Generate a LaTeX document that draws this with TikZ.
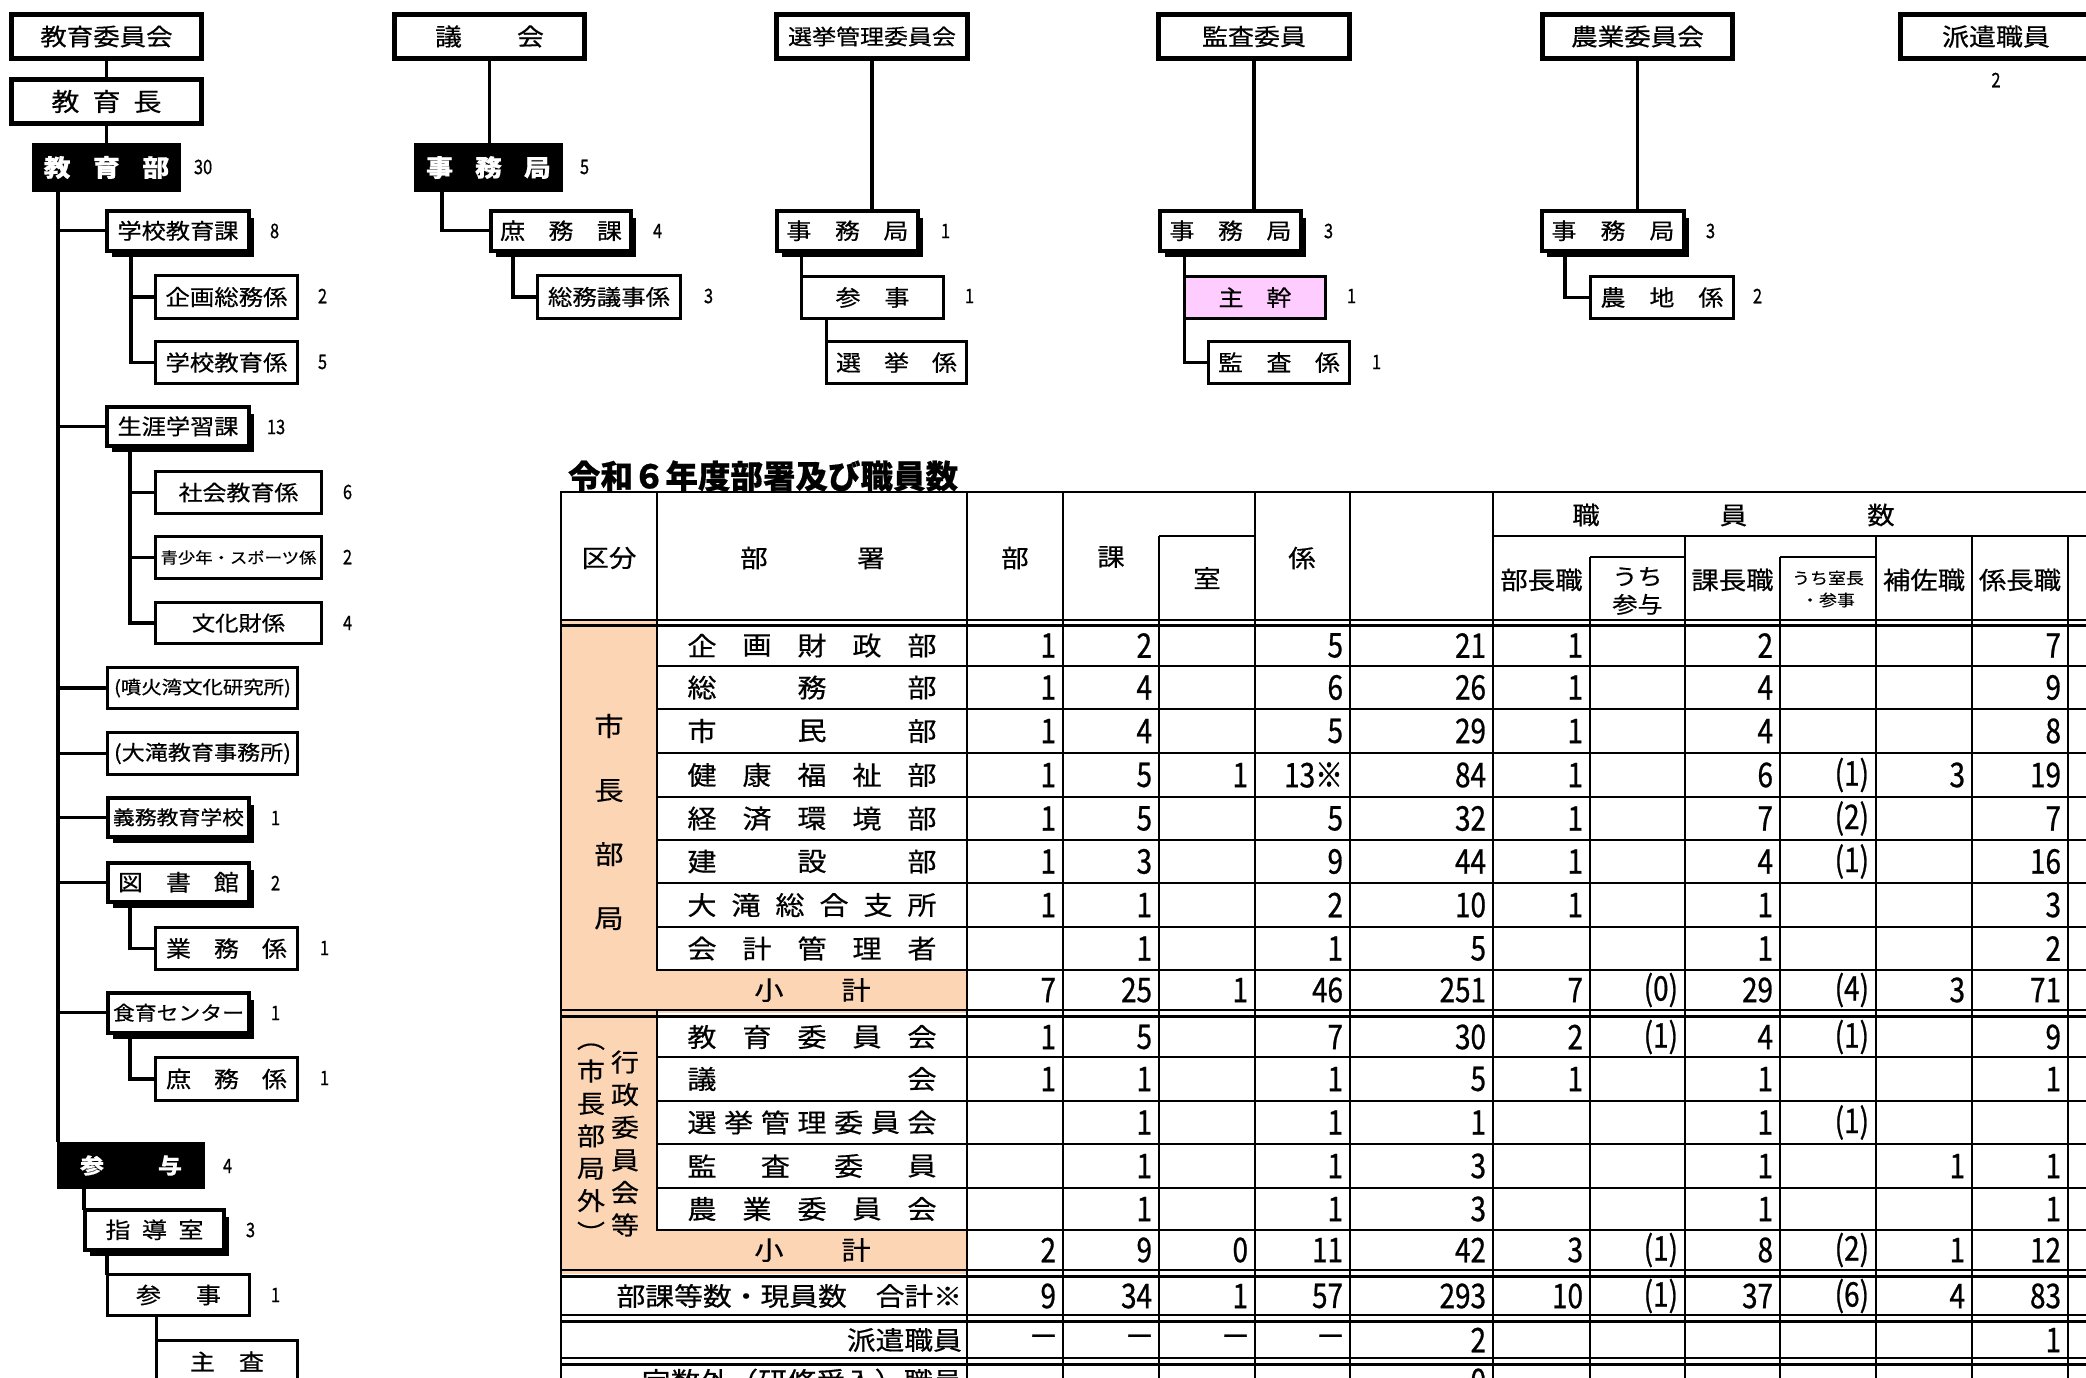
\documentclass[tikz,border=0pt]{standalone}
\usepackage{fontspec}
\setmainfont{Noto Sans CJK JP}[FakeStretch=1.12,FakeBold=0.5]
\newfontfamily\numf{Noto Sans CJK JP}[FakeStretch=0.82,FakeBold=0.7]
\newfontfamily\titlef{Noto Sans CJK JP}[FakeBold=0.6]
\usetikzlibrary{shadows}
\pgfdeclarelayer{back}
\pgfdeclarelayer{bg}
\pgfsetlayers{back,bg,main}
\definecolor{peach}{RGB}{252,213,180}
\definecolor{pinkfill}{RGB}{255,204,255}
\newcommand\fs[1]{\fontsize{#1}{#1}\selectfont}
\newcommand\gap[1]{\hspace*{#1pt}}
\tikzset{
  every node/.style={inner sep=0pt, outer sep=0pt},
  thickbox/.style={draw, line width=5pt, fill=white},
  thinbox/.style={draw, line width=3.3pt, fill=white},
  shbox/.style={draw, line width=4pt, fill=white, drop shadow={shadow xshift=5pt, shadow yshift=-6.5pt, opacity=1, fill=black}},
  blackbox/.style={fill=black, text=white},
  conn/.style={line width=3.3pt},
  lbl/.style={anchor=west, font=\numf\fs{20}},
  tnum/.style={anchor=east, font=\numf\fs{34}},
  hd/.style={font=\fs{24.5}},
  thk/.style={line width=2.8pt, line cap=rect},
  dbl/.style={line width=2.4pt},
  thn/.style={line width=1.1pt},
}
\newcommand\tkbox[6]{\node[thickbox, minimum width={#4-#2-5}, minimum height={#5-#3-5}] (#1) at ({(#2+#4)/2},{(#3+#5)/2}) {#6};}
\newcommand\tnbox[7][]{\node[thinbox,#1, minimum width={#5-#3-3.3}, minimum height={#6-#4-3.3}] (#2) at ({(#3+#5)/2},{(#4+#6)/2}) {#7};}
\newcommand\shbx[6]{\node[shbox, minimum width={#4-#2-7}, minimum height={#5-#3-8.5}] (#1) at ({(#2+#4)/2-1.5},{(#3+#5)/2-2.25}) {#6};}
\newcommand\bkbox[6]{\node[blackbox, minimum width={#4-#2}, minimum height={#5-#3}] (#1) at ({(#2+#4)/2},{(#3+#5)/2}) {#6};}
\def\colsR{{1063,1159,1255,1350,1493,1590,1685,1780,1876,1972,2068}}
\newcommand\trow[3]{\foreach \v [count=\i] in {#3} {\pgfmathsetmacro\xr{\colsR[\i-1]-7}\node[tnum] (#1-\i) at (\xr,#2) {\v};}}
\newcommand\jst[4]{\foreach \ch [count=\i] in {#4} {\node[font=\fs{26}] (#1-j\i) at ({702+(\i-1)*220/(#3-1)},#2) {\ch};}}
\begin{document}
\begin{tikzpicture}[x=1pt,y=-1pt]
\useasboundingbox (0,0) rectangle (2086,1377);
\begin{pgfonlayer}{back}
\fill[white] (0,0) rectangle (2086,1377);
\end{pgfonlayer}
\clip (0,0) rectangle (2086,1377);

% ---------- org chart: top boxes ----------
\tkbox{kyoi}{9}{12}{204}{61}{\fs{23.6}教育委員会}
\tkbox{kcho}{9}{77}{204}{126}{\fs{25}教\gap{13}育\gap{13}長}
\tkbox{gikai}{392}{12}{587}{61}{\fs{24}議\gap{55}会}
\tkbox{senkan}{774}{12}{970}{61}{\fs{21.4}選挙管理委員会}
\tkbox{kansa}{1156}{12}{1352}{61}{\fs{23.2}監査委員}
\tkbox{nogyo}{1540}{12}{1735}{61}{\fs{23.7}農業委員会}
\tkbox{haken}{1898}{12}{2094}{61}{\fs{24.1}派遣職員}

% black boxes
\bkbox{kbu}{32}{143}{181}{192}{\bfseries\fs{24}教\gap{22.5}育\gap{22.5}部}
\bkbox{gjim}{414}{143}{563}{192}{\bfseries\fs{24}事\gap{22}務\gap{22}局}
\bkbox{sanyo}{57}{1142}{205}{1189}{\bfseries\fs{21.4}参\gap{54}与}

% shadow boxes
\shbx{gakko}{105}{209}{254}{257}{\fs{21.6}学校教育課}
\shbx{shogai}{105}{405}{254}{452}{\fs{21.6}生涯学習課}
\shbx{gimu}{106}{796}{254}{843}{\fs{19.5}義務教育学校}
\shbx{tosho}{106}{861}{254}{908}{\fs{22.3}図\gap{23}書\gap{23}館}
\shbx{shoku}{106}{991}{254}{1039}{\fs{19.5}食育センター}
\shbx{shido}{83}{1208}{229}{1256}{\fs{22.3}指\gap{11.5}導\gap{11.5}室}
\shbx{shomu}{489}{209}{636}{257}{\fs{22.3}庶\gap{23.5}務\gap{23.5}課}
\shbx{sjim}{775}{209}{923}{257}{\fs{22.3}事\gap{23.5}務\gap{23.5}局}
\shbx{kjim}{1158}{209}{1306}{257}{\fs{22.3}事\gap{23.5}務\gap{23.5}局}
\shbx{njim}{1540}{209}{1689}{257}{\fs{22.3}事\gap{24}務\gap{24}局}

% thin boxes
\tnbox{kikaku}{154}{274}{299}{320}{\fs{21.8}企画総務係}
\tnbox{gkk}{154}{340}{299}{385}{\fs{21.8}学校教育係}
\tnbox{shakai}{154}{470}{323}{515}{\fs{21.4}社会教育係}
\tnbox{seisho}{154}{535}{323}{580}{\fs{15.5}青少年・スポーツ係}
\tnbox{bunka}{154}{601}{323}{645}{\fs{20.8}文化財係}
\tnbox{funka}{106}{666}{299}{710}{\fs{18.2}(噴火湾文化研究所)}
\tnbox{otaki}{106}{731}{299}{776}{\fs{20.6}(大滝教育事務所)}
\tnbox{gyomu}{154}{926}{299}{971}{\fs{22.3}業\gap{23}務\gap{23}係}
\tnbox{shomuk}{154}{1056}{299}{1102}{\fs{22.3}庶\gap{23}務\gap{23}係}
\tnbox{sanji}{106}{1273}{251}{1317}{\fs{22.3}参\gap{35}事}
\tnbox{shusa}{155}{1339}{299}{1384}{\fs{22.3}主\gap{24}査}
\tnbox{somu}{536}{274}{682}{320}{\fs{21.8}総務議事係}
\tnbox{ssanji}{800}{275}{945}{320}{\fs{22.3}参\gap{24}事}
\tnbox{senkyo}{825}{340}{968}{385}{\fs{22.3}選\gap{23}挙\gap{23}係}
\tnbox[fill=pinkfill]{shukan}{1183}{275}{1327}{320}{\fs{22.3}主\gap{23}幹}
\tnbox{kansagakari}{1207}{340}{1351}{385}{\fs{22.3}監\gap{23.5}査\gap{23.5}係}
\tnbox{nochi}{1589}{275}{1735}{320}{\fs{22.3}農\gap{24}地\gap{24}係}

% connectors
\begin{pgfonlayer}{bg}
\draw[conn] (kyoi.south) -- (kcho.north);
\draw[conn] (kcho.south) -- (kbu.north);
\coordinate (trunk) at ([xshift=26pt]kbu.south west);
\draw[conn] (trunk) -- (trunk |- sanyo.north);
\foreach \n in {gakko,shogai,funka,otaki,gimu,tosho,shoku}
  \draw[conn] (trunk |- \n.west) -- (\n.west);
\draw[conn] ([xshift=24pt]gakko.south west) |- (gkk.west);
\draw[conn] ([xshift=24pt]gakko.south west |- kikaku.west) -- (kikaku.west);
\draw[conn] ([xshift=23pt]shogai.south west) |- (bunka.west);
\draw[conn] ([xshift=23pt]shogai.south west |- shakai.west) -- (shakai.west);
\draw[conn] ([xshift=23pt]shogai.south west |- seisho.west) -- (seisho.west);
\draw[conn] ([xshift=22pt]tosho.south west) |- (gyomu.west);
\draw[conn] ([xshift=22pt]shoku.south west) |- (shomuk.west);
\draw[conn] ([xshift=27pt]sanyo.south west) -- ([xshift=27pt]sanyo.south west |- shido.north);
\draw[conn] ([xshift=22pt]shido.south west) -- ([xshift=22pt]shido.south west |- sanji.north);
\draw[conn] ([xshift=48.5pt]sanji.south west) -- ([xshift=48.5pt]sanji.south west |- shusa.north);
\draw[conn] (gikai.south) -- (gikai.south |- gjim.north);
\draw[conn] ([xshift=28pt]gjim.south west) |- (shomu.west);
\draw[conn] ([xshift=22pt]shomu.south west) |- (somu.west);
\draw[conn] (senkan.south) -- (senkan.south |- sjim.north);
\draw[conn] ([xshift=24.5pt]sjim.south west) -- ([xshift=24.5pt]sjim.south west |- ssanji.north);
\draw[conn] ([xshift=24.5pt]ssanji.south west) -- ([xshift=24.5pt]ssanji.south west |- senkyo.north);
\draw[conn] (kansa.south) -- (kansa.south |- kjim.north);
\draw[conn] ([xshift=24.5pt]kjim.south west) |- (kansagakari.west);
\draw[conn] (nogyo.south) -- (nogyo.south |- njim.north);
\draw[conn] ([xshift=23pt]njim.south west) |- (nochi.west);
\end{pgfonlayer}

% count labels
\node[lbl] (n01) at (194,167) {30};
\node[lbl] (n02) at (270,231) {8};
\node[lbl] (n03) at (318,296) {2};
\node[lbl] (n04) at (318,362) {5};
\node[lbl] (n05) at (267,427) {13};
\node[lbl] (n06) at (343,492) {6};
\node[lbl] (n07) at (343,557) {2};
\node[lbl] (n08) at (343,623) {4};
\node[lbl] (n09) at (271,818) {1};
\node[lbl] (n10) at (271,883) {2};
\node[lbl] (n11) at (320,948) {1};
\node[lbl] (n12) at (271,1013) {1};
\node[lbl] (n13) at (320,1078) {1};
\node[lbl] (n14) at (223,1166) {4};
\node[lbl] (n15) at (246,1230) {3};
\node[lbl] (n16) at (271,1295) {1};
\node[lbl] (n17) at (580,167) {5};
\node[lbl] (n18) at (653,231) {4};
\node[lbl] (n19) at (704,296) {3};
\node[lbl] (n20) at (941,231) {1};
\node[lbl] (n21) at (965,296) {1};
\node[lbl] (n22) at (1324,231) {3};
\node[lbl] (n23) at (1347,296) {1};
\node[lbl] (n24) at (1372,362) {1};
\node[lbl] (n25) at (1706,231) {3};
\node[lbl] (n26) at (1753,296) {2};
\node[lbl,anchor=center] (n27) at (1996,80) {2};

% ---------- table ----------
\node[anchor=west, font=\titlef\bfseries\fs{32.5}] (title) at (568,476) {令和６年度部署及び職員数};

\fill[peach] (561,621) rectangle (657,970);
\fill[peach] (561,970) rectangle (967,1013);
\fill[peach] (561,1013) rectangle (657,1230);
\fill[peach] (561,1230) rectangle (967,1274);

\draw[thk] (561,492) -- (2090,492);
\draw[thn] (1159,536) -- (1255,536);
\draw[thk] (1493,536) -- (2090,536);
\draw[thn] (1590,557) -- (1685,557) (1780,557) -- (1876,557);
\foreach \y in {620,625.5,1010,1016.5,1270,1276.5,1315,1321.5,1358,1364.5}
  \draw[dbl] (561,\y) -- (2090,\y);
\foreach \y in {666,709,753,797,840,883,927,1057,1101,1144,1188}
  \draw[thn] (657,\y) -- (2090,\y);
\draw[thk] (657,970) -- (2090,970) (657,1230) -- (2090,1230);
\foreach \x in {561,967,1350,1493} \draw[thk] (\x,492) -- (\x,1395);
\draw[thk] (657,492) -- (657,970) (657,1010) -- (657,1230);
\foreach \x in {1063,1255} \draw[thn] (\x,492) -- (\x,1395);
\draw[thn] (1159,536) -- (1159,1395);
\foreach \x in {1590,1780} \draw[thn] (\x,557) -- (\x,1395);
\foreach \x in {1685,1876,1972,2068} \draw[thn] (\x,536) -- (\x,1395);

% header
\node[hd] (h1) at (609,558) {区分};
\node[hd] (h2) at (812.5,558) {部\gap{89.5}署};
\node[hd] (h3) at (1015,558) {部};
\node[hd] (h4) at (1111,557) {課};
\node[hd] (h5) at (1207,578) {室};
\node[hd] (h6) at (1302,558) {係};
\node[hd] (h7) at (1733.5,515) {職\gap{120}員\gap{120}数};
\node[hd] (h8) at (1541.5,580) {部長職};
\node[align=center, font=\fontsize{22.5}{28}\selectfont] (h9) at (1637.5,591) {うち\\参与};
\node[hd] (h10) at (1732.5,580) {課長職};
\node[align=center, font=\fontsize{16}{22}\selectfont] (h11) at (1828,589) {うち室長\\・参事};
\node[hd] (h12) at (1924,580) {補佐職};
\node[hd] (h13) at (2020,580) {係長職};

% group labels
\node[align=center, font=\fontsize{26}{64}\selectfont] (g1) at (609,822) {市\\長\\部\\局};
\node[align=center, font=\fontsize{25}{32.6}\selectfont] (g2) at (625,1143.5) {行\\政\\委\\員\\会\\等};
\node[align=center, font=\fontsize{25}{32.4}\selectfont] (g3) at (591,1143) {︵\\市\\長\\部\\局\\外\\︶};

% row names
\jst{r1}{645.5}{5}{企,画,財,政,部}
\jst{r2}{687.5}{3}{総,務,部}
\jst{r3}{731}{3}{市,民,部}
\jst{r4}{775}{5}{健,康,福,祉,部}
\jst{r5}{818.5}{5}{経,済,環,境,部}
\jst{r6}{861.5}{3}{建,設,部}
\jst{r7}{905}{6}{大,滝,総,合,支,所}
\jst{r8}{948.5}{5}{会,計,管,理,者}
\node[font=\fs{26}] (s1n) at (812.5,990) {小\gap{58}計};
\jst{r9}{1037}{5}{教,育,委,員,会}
\jst{r10}{1079}{2}{議,会}
\jst{r11}{1122.5}{7}{選,挙,管,理,委,員,会}
\jst{r12}{1166}{4}{監,査,委,員}
\jst{r13}{1209}{5}{農,業,委,員,会}
\node[font=\fs{26}] (s2n) at (812.5,1250) {小\gap{58}計};
\node[anchor=east, font=\fs{25.7}] (tn) at (962,1296) {部課等数・現員数　合計※};
\node[anchor=east, font=\fs{25.7}] (hn) at (962,1340) {派遣職員};
\node[anchor=east, font=\fs{26}] (xn) at (962,1381) {定数外（研修受入）職員};

% row values
\trow{r1}{645.5}{1,2,,5,21,1,,2,,,7}
\trow{r2}{687.5}{1,4,,6,26,1,,4,,,9}
\trow{r3}{731}{1,4,,5,29,1,,4,,,8}
\trow{r4}{775}{1,5,1,13※,84,1,,6,{(1)},3,19}
\trow{r5}{818.5}{1,5,,5,32,1,,7,{(2)},,7}
\trow{r6}{861.5}{1,3,,9,44,1,,4,{(1)},,16}
\trow{r7}{905}{1,1,,2,10,1,,1,,,3}
\trow{r8}{948.5}{,1,,1,5,,,1,,,2}
\trow{s1}{990}{7,25,1,46,251,7,{(0)},29,{(4)},3,71}
\trow{r9}{1037}{1,5,,7,30,2,{(1)},4,{(1)},,9}
\trow{r10}{1079}{1,1,,1,5,1,,1,,,1}
\trow{r11}{1122.5}{,1,,1,1,,,1,{(1)},,}
\trow{r12}{1166}{,1,,1,3,,,1,,1,1}
\trow{r13}{1209}{,1,,1,3,,,1,,,1}
\trow{s2}{1250}{2,9,0,11,42,3,{(1)},8,{(2)},1,12}
\trow{t}{1296}{9,34,1,57,293,10,{(1)},37,{(6)},4,83}
\trow{h}{1340}{—,—,—,—,2,,,,,,1}
\trow{x}{1381}{,,,,0}
\end{tikzpicture}
\end{document}
